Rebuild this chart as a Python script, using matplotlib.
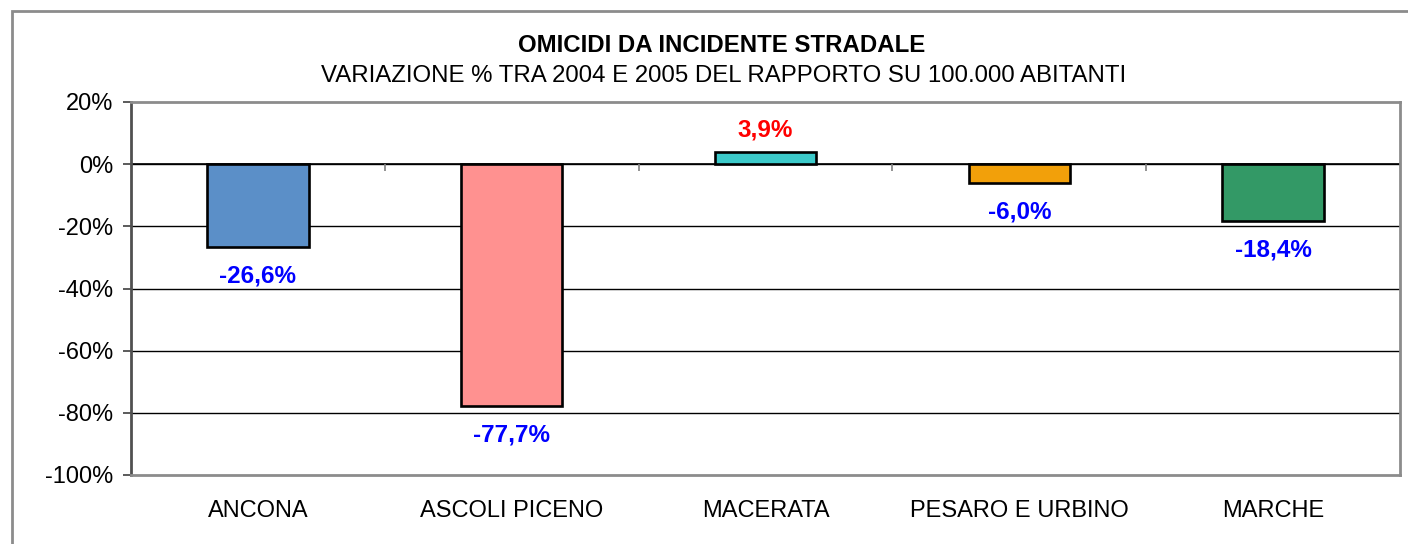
import matplotlib.pyplot as plt
import matplotlib.patches as mpatches
from matplotlib.ticker import FuncFormatter

# Dati
categorie = ["ANCONA", "ASCOLI PICENO", "MACERATA", "PESARO E URBINO", "MARCHE"]
variazioni = [-26.6, -77.7, 3.9, -6.0, -18.4]
colori_barre = ["#5B8FC8", "#FF9190", "#3CCACA", "#F2A00A", "#339966"]
y_ticks = [20, 0, -20, -40, -60, -80, -100]

titolo = "OMICIDI DA INCIDENTE STRADALE"
sottotitolo = "VARIAZIONE % TRA 2004 E 2005 DEL RAPPORTO SU 100.000 ABITANTI"

plt.rcParams['font.family'] = ['Liberation Sans', 'DejaVu Sans']

fig = plt.figure(figsize=(14.08, 5.44), dpi=100)
ax = fig.add_axes([131 / 1408, 1 - 475 / 544, 1269 / 1408, 373 / 544])

x = list(range(len(categorie)))
ax.bar(x, variazioni, width=0.4, color=colori_barre, edgecolor="black",
       linewidth=1.9, zorder=3)

# Etichette valori
for xi, v in zip(x, variazioni):
    testo = f"{v:.1f}%".replace(".", ",")
    if v >= 0:
        ax.annotate(testo, (xi, v), xytext=(0, 7.5), textcoords="offset points",
                    ha="center", va="bottom", color="#FF0000",
                    fontsize=17.5, fontweight="bold", zorder=4)
    else:
        ax.annotate(testo, (xi, v), xytext=(0, -12.5), textcoords="offset points",
                    ha="center", va="top", color="#0000FF",
                    fontsize=17.5, fontweight="bold", zorder=4)

ax.set_xlim(-0.5, len(categorie) - 0.5)
ax.set_ylim(-100, 20)
ax.set_yticks(y_ticks)
ax.yaxis.set_major_formatter(FuncFormatter(lambda v, p: f"{v:.0f}%"))
ax.tick_params(axis="y", direction="out", length=6, width=1.2, color="#404040",
               pad=7, labelsize=17)
ax.set_xticks(x)
ax.set_xticklabels(categorie)
ax.tick_params(axis="x", length=0, pad=18, labelsize=17)

# Griglia e linea dello zero
for t in y_ticks[1:-1]:
    ax.axhline(t, color="black", linewidth=1.0, zorder=1)
ax.axhline(0, color="black", linewidth=1.2, zorder=2)

# Tacche sulla linea dello zero tra le categorie
confini = [i + 0.5 for i in range(len(categorie) - 1)]
ax.plot(confini, [0] * len(confini), linestyle="none", marker=3,
        markersize=5, markeredgewidth=1.2, color="#808080", zorder=2)

for nome in ["top", "right", "bottom"]:
    ax.spines[nome].set_color("#8C8C8C")
    ax.spines[nome].set_linewidth(2)
ax.spines["left"].set_color("#505050")
ax.spines["left"].set_linewidth(2)

# Titoli
fig.text(722 / 1408, 1 - 45.5 / 544, titolo, ha="center", va="center",
         fontsize=17.3, fontweight="bold")
fig.text(724 / 1408, 1 - 76.5 / 544, sottotitolo, ha="center", va="center",
         fontsize=17.3)

# Bordo esterno
bordo = mpatches.Rectangle((12 / 1408, -0.1), 1.2, 1 - 11 / 544 + 0.1,
                           transform=fig.transFigure, fill=False,
                           edgecolor="#8C8C8C", linewidth=2)
fig.patches.append(bordo)

fig.savefig("out.png", dpi=100)
